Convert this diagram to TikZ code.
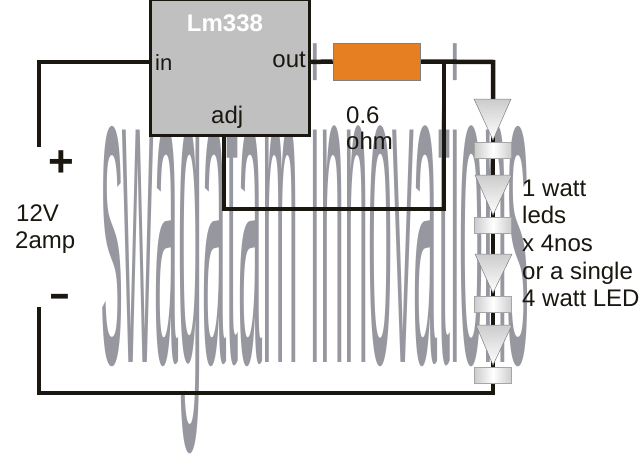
\documentclass[tikz,border=0pt]{standalone}
\usepackage{fontspec}
\setmainfont{Liberation Sans}
\definecolor{wirec}{HTML}{1A1610}
\definecolor{wm}{HTML}{97979F}
\definecolor{chipc}{HTML}{C0C0C0}
\definecolor{resc}{HTML}{E67E22}
\tikzset{
  wire/.style={draw=wirec,line width=4.5pt,line cap=butt,line join=miter},
  lab/.style={inner sep=0pt,anchor=base west,text=wirec,font=\fontsize{24}{27.5}\selectfont},
  chip/.style={draw=wirec,line width=3pt,fill=chipc,inner sep=0pt,minimum width=159pt,minimum height=136pt},
  resistor/.style={draw=gray,line width=.5pt,fill=resc,inner sep=0pt,minimum width=87pt,minimum height=37pt},
  ledbar/.style={draw=gray!70,line width=.5pt,inner sep=0pt,minimum width=37pt,minimum height=16pt,left color=gray!40,right color=gray!40,middle color=white},
  ledtri/.style={draw=gray,line width=.5pt,top color=gray!40,bottom color=white}
}
\begin{document}
\begin{tikzpicture}[x=1pt,y=-1pt]
\useasboundingbox (0,0) rectangle (640,455);
\fill[white] (0,0) rectangle (640,455);
% watermark
\node[inner sep=0pt,anchor=base west,text=wm] (mark) at (101,362) {\scalebox{4.33}[44]{\fontsize{10}{12}\selectfont swagatam innovations}};
% anchors
\node[chip] (reg) at (229.5,67) {};
\node[resistor] (res) at (376.5,61.5) {};
\coordinate (pinin) at (150,62);
\coordinate (pinout) at (309,62);
\coordinate (pinadj) at (224,135);
\coordinate (batp) at (39,147);
\coordinate (batn) at (39,307);
\coordinate (sense) at (444,62);
\coordinate (corner) at (493,62);
\node[ledbar] (b1) at (493,150) {};
\node[ledbar] (b2) at (493,225) {};
\node[ledbar] (b3) at (493,304) {};
\node[ledbar] (b4) at (493,375) {};
\coordinate (t1) at (493,99);
% wires
\draw[wire] (batp) |- (pinin);
\draw[wire] (pinout) -- (res.west);
\draw[wire] (res.east) -- (corner) -- (t1);
\draw[wire] (pinadj) |- (444,209) -- (sense);
\draw[wire] (t1) -- (b4.south);
\draw[wire] (b4.south) |- (batn |- 0,393) -- (batn);
% redraw top parts
\node[chip] at (reg) {};
\node[resistor] at (res) {};
% LEDs
\path[ledtri] (474,99) -- (511,99) -- (493,140) -- cycle;
\path[ledtri] (475,175) -- (512,175) -- (493,215) -- cycle;
\path[ledtri] (475,254) -- (512,254) -- (493,293) -- cycle;
\path[ledtri] (476,325) -- (512,325) -- (493,365) -- cycle;
\node[ledbar] at (b1) {};
\node[ledbar] at (b2) {};
\node[ledbar] at (b3) {};
\node[ledbar] at (b4) {};
% labels
\node[lab,text=white,font=\fontsize{24}{27.5}\selectfont\bfseries,anchor=base] (name) at (225,31) {Lm338};
\node[lab,font=\fontsize{22}{27}\selectfont] (lin) at (155,70) {in};
\node[lab,anchor=base east] (lout) at (306,67) {out};
\node[lab] (ladj) at (211,123) {adj};
\node[lab] (lv) at (16,221) {12V};
\node[lab] (la) at (15,248) {2amp};
\node[lab] (lr) at (346,123) {0.6};
\node[lab] (lo) at (346,149) {ohm};
\node[lab] (l1) at (522,196) {1 watt};
\node[lab] (l2) at (522,223) {leds};
\node[lab] (l3) at (522,251) {x 4nos};
\node[lab] (l4) at (522,279) {or a single};
\node[lab] (l5) at (522,306) {4 watt LED};
\node[inner sep=0pt,anchor=center,text=wirec,font=\fontsize{44}{44}\selectfont\bfseries] (plus) at (61.5,164) {+};
\node[inner sep=0pt,anchor=center,text=wirec,font=\fontsize{34}{34}\selectfont\bfseries] (minus) at (59.5,302) {\scalebox{1}[1.4]{–}};
\end{tikzpicture}
\end{document}
